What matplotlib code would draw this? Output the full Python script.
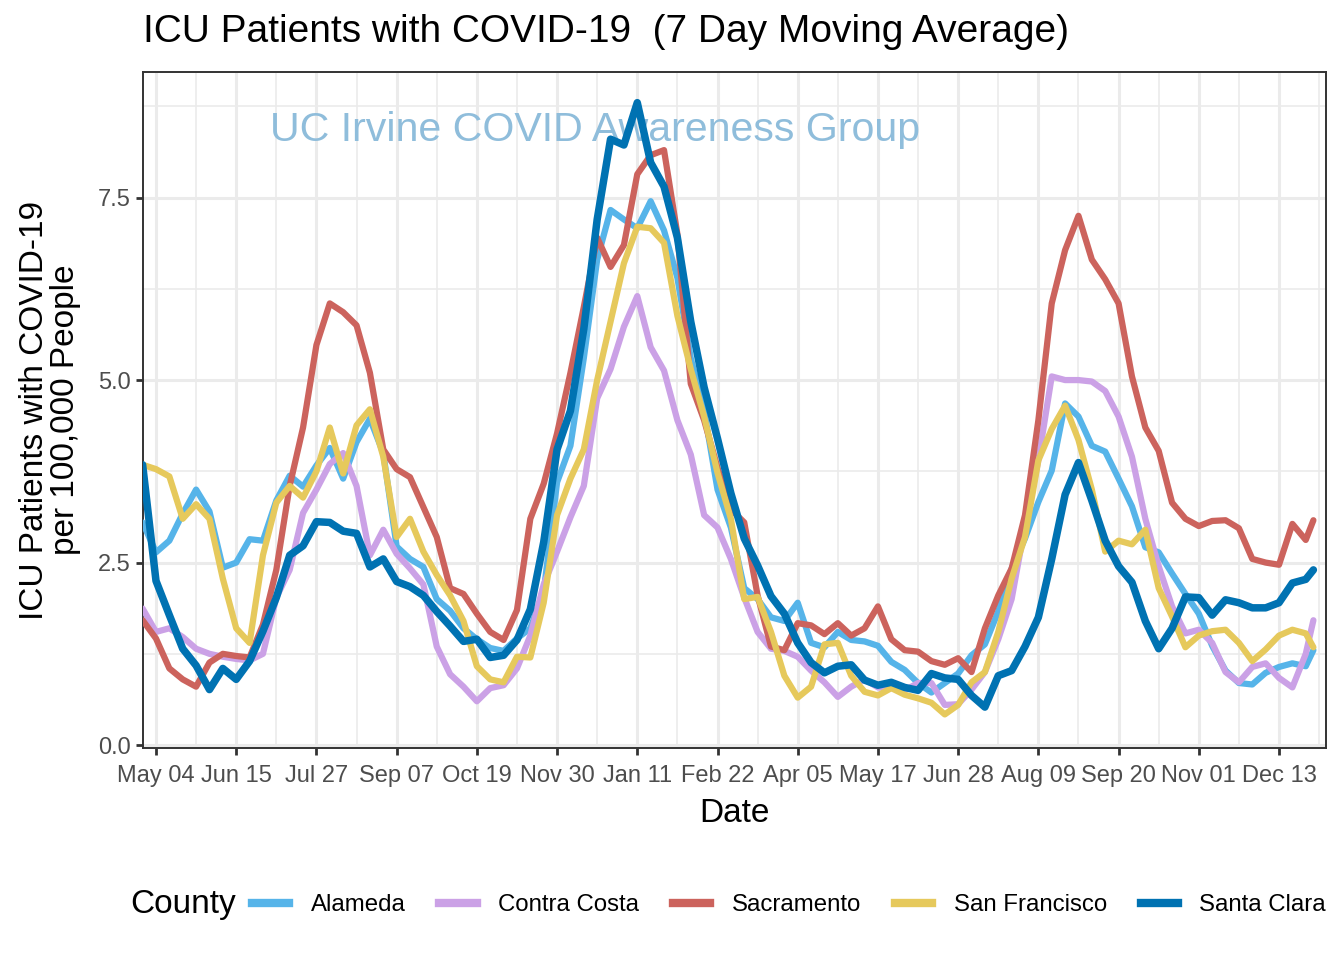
import matplotlib
matplotlib.use("Agg")
import matplotlib.pyplot as plt
import matplotlib.dates as mdates
from matplotlib.lines import Line2D
import pandas as pd

# weekly readings from 2020-04-27, last point 2021-12-31
dates = list(pd.date_range("2020-04-27", periods=88, freq="7D")) + [pd.Timestamp("2021-12-31")]

alameda = [3.05, 2.64, 2.80, 3.17, 3.50, 3.20, 2.43, 2.50, 2.82, 2.80,
           3.35, 3.69, 3.54, 3.83, 4.07, 3.65, 4.15, 4.47, 4.00, 2.72,
           2.55, 2.44, 2.00, 1.84, 1.60, 1.45, 1.33, 1.29, 1.46, 1.60,
           2.10, 3.60, 4.10, 5.30, 6.65, 7.33, 7.20, 7.08, 7.45, 7.05,
           6.40, 5.30, 4.58, 3.50, 2.98, 2.15, 2.00, 1.75, 1.70, 1.95,
           1.40, 1.34, 1.55, 1.44, 1.42, 1.36, 1.14, 1.03, 0.85, 0.72,
           0.85, 0.98, 1.23, 1.38, 1.83, 2.42, 2.83, 3.33, 3.76, 4.68,
           4.50, 4.10, 4.02, 3.65, 3.27, 2.71, 2.64, 2.35, 2.07, 1.80,
           1.36, 1.02, 0.85, 0.83, 0.99, 1.07, 1.12, 1.08, 1.30]

contra_costa = [1.87, 1.55, 1.60, 1.48, 1.32, 1.25, 1.21, 1.18, 1.16, 1.25,
                2.02, 2.40, 3.18, 3.50, 3.85, 4.00, 3.55, 2.60, 2.95, 2.62,
                2.42, 2.20, 1.35, 0.97, 0.80, 0.60, 0.78, 0.82, 1.05, 1.50,
                2.20, 2.65, 3.12, 3.55, 4.75, 5.15, 5.73, 6.15, 5.45, 5.13,
                4.45, 3.98, 3.15, 2.98, 2.55, 2.02, 1.55, 1.32, 1.29, 1.21,
                1.02, 0.86, 0.66, 0.80, 0.90, 0.79, 0.78, 0.75, 0.85, 0.85,
                0.55, 0.56, 0.76, 1.00, 1.45, 2.00, 3.00, 3.90, 5.05, 5.00,
                5.00, 4.98, 4.85, 4.50, 3.95, 3.10, 2.45, 1.90, 1.53, 1.58,
                1.40, 1.00, 0.86, 1.07, 1.12, 0.92, 0.79, 1.25, 1.71]

sacramento = [1.71, 1.46, 1.05, 0.90, 0.80, 1.13, 1.25, 1.22, 1.20, 1.65,
              2.40, 3.55, 4.35, 5.48, 6.05, 5.93, 5.75, 5.10, 4.05, 3.78,
              3.67, 3.26, 2.85, 2.15, 2.07, 1.80, 1.55, 1.44, 1.85, 3.10,
              3.58, 4.27, 5.10, 6.00, 6.95, 6.55, 6.85, 7.82, 8.08, 8.15,
              7.00, 4.95, 4.45, 3.80, 3.23, 3.05, 2.05, 1.35, 1.30, 1.67,
              1.64, 1.52, 1.67, 1.50, 1.60, 1.90, 1.45, 1.30, 1.28, 1.15,
              1.10, 1.19, 1.00, 1.60, 2.05, 2.42, 3.15, 4.45, 6.05, 6.78,
              7.25, 6.65, 6.38, 6.05, 5.05, 4.35, 4.03, 3.32, 3.10, 3.00,
              3.07, 3.08, 2.97, 2.55, 2.50, 2.47, 3.03, 2.81, 3.08]

san_francisco = [3.84, 3.78, 3.68, 3.10, 3.30, 3.10, 2.28, 1.60, 1.40, 2.60,
                 3.32, 3.55, 3.39, 3.75, 4.35, 3.72, 4.38, 4.60, 3.95, 2.85,
                 3.10, 2.65, 2.33, 2.05, 1.70, 1.08, 0.90, 0.86, 1.21, 1.20,
                 1.95, 3.15, 3.65, 4.05, 5.00, 5.80, 6.60, 7.10, 7.08, 6.88,
                 5.88, 5.15, 4.50, 3.73, 3.10, 2.00, 2.03, 1.55, 0.95, 0.65,
                 0.80, 1.38, 1.40, 0.95, 0.73, 0.68, 0.78, 0.69, 0.64, 0.58,
                 0.42, 0.55, 0.86, 1.00, 1.55, 2.28, 2.85, 3.90, 4.33, 4.65,
                 4.18, 3.50, 2.65, 2.80, 2.75, 2.95, 2.15, 1.76, 1.34, 1.50,
                 1.56, 1.58, 1.40, 1.15, 1.31, 1.50, 1.58, 1.53, 1.34]

santa_clara = [3.84, 2.25, 1.78, 1.32, 1.09, 0.76, 1.05, 0.90, 1.15, 1.56,
               2.02, 2.60, 2.73, 3.06, 3.05, 2.93, 2.90, 2.44, 2.55, 2.24,
               2.17, 2.05, 1.83, 1.63, 1.42, 1.45, 1.20, 1.23, 1.44, 1.86,
               2.78, 4.05, 4.58, 5.70, 7.20, 8.30, 8.22, 8.80, 7.98, 7.65,
               6.95, 5.80, 4.90, 4.20, 3.45, 2.83, 2.46, 2.04, 1.80, 1.40,
               1.13, 0.99, 1.08, 1.10, 0.89, 0.82, 0.86, 0.79, 0.75, 0.98,
               0.92, 0.90, 0.68, 0.52, 0.95, 1.02, 1.35, 1.75, 2.55, 3.43,
               3.87, 3.35, 2.80, 2.45, 2.23, 1.70, 1.32, 1.60, 2.03, 2.02,
               1.78, 1.99, 1.95, 1.88, 1.88, 1.95, 2.22, 2.27, 2.40]

counties = ["Alameda", "Contra Costa", "Sacramento", "San Francisco", "Santa Clara"]
series = [alameda, contra_costa, sacramento, san_francisco, santa_clara]
colors = ["#56B4E9", "#CBA1E6", "#CC635D", "#E6C95C", "#0072B2"]

tick_dates = pd.date_range("2020-05-04", periods=15, freq="42D")
y_ticks = [0.0, 2.5, 5.0, 7.5]

plt.rcParams["font.family"] = ["Liberation Sans", "DejaVu Sans"]

fig = plt.figure(figsize=(13.44, 9.6), dpi=100)
ax = fig.add_axes([143 / 1344, 1 - 748 / 960, (1326 - 143) / 1344, (748 - 72) / 960])

for name, vals, col in zip(counties, series, colors):
    lw = 5.4 if name == "Santa Clara" else 4.5
    ax.plot(dates, vals, color=col, lw=lw, solid_capstyle="round",
            solid_joinstyle="round", zorder=3)

t0 = mdates.date2num(tick_dates[0])
ax.set_xticks(tick_dates)
ax.set_xticklabels([d.strftime("%b %d") for d in tick_dates])
ax.set_xticks([mdates.date2num(d) + 21 for d in tick_dates], minor=True)
ax.set_yticks(y_ticks)
ax.set_yticklabels(["0.0", "2.5", "5.0", "7.5"])
ax.set_yticks([1.25, 3.75, 6.25, 8.75], minor=True)
ax.set_xlim(t0 - 6.8, t0 + 612.6)
ax.set_ylim(-0.04, 9.22)

ax.grid(which="major", color="#ebebeb", lw=2.2, zorder=0)
ax.grid(which="minor", color="#ebebeb", lw=1.2, zorder=0)
ax.set_axisbelow(True)
for s in ax.spines.values():
    s.set_color("#333333")
    s.set_linewidth(1.4)
ax.tick_params(which="major", length=5, width=2, color="#333333",
               labelsize=17, labelcolor="#4d4d4d", pad=4)
ax.tick_params(axis="x", which="major", pad=7)
ax.tick_params(which="minor", length=0)

ax.set_xlabel("Date", fontsize=24, labelpad=8)
ax.set_ylabel("ICU Patients with COVID-19\nper 100,000 People", fontsize=24,
              labelpad=12, linespacing=1.0)

ax.text(mdates.date2num(pd.Timestamp("2020-12-20")), 8.43,
        "UC Irvine COVID Awareness Group", color="#8fbddb", fontsize=29.6,
        ha="center", va="center", zorder=2)

fig.text(143 / 1344, 1 - 32 / 960, "ICU Patients with COVID-19  (7 Day Moving Average)",
         fontsize=28, ha="left", va="center")

handles = [Line2D([0], [0], color=c, lw=6) for c in colors]
fig.text(130 / 1344, 1 - 905 / 960, "County", fontsize=24, ha="left", va="center")
fig.legend(handles, counties, loc="center left", bbox_to_anchor=(252 / 1344, 1 - 905 / 960),
           ncol=5, frameon=False, fontsize=17.3, handlelength=1.55, handletextpad=0.9,
           columnspacing=1.4, borderpad=0, borderaxespad=0)

fig.savefig("out.png", dpi=100)
